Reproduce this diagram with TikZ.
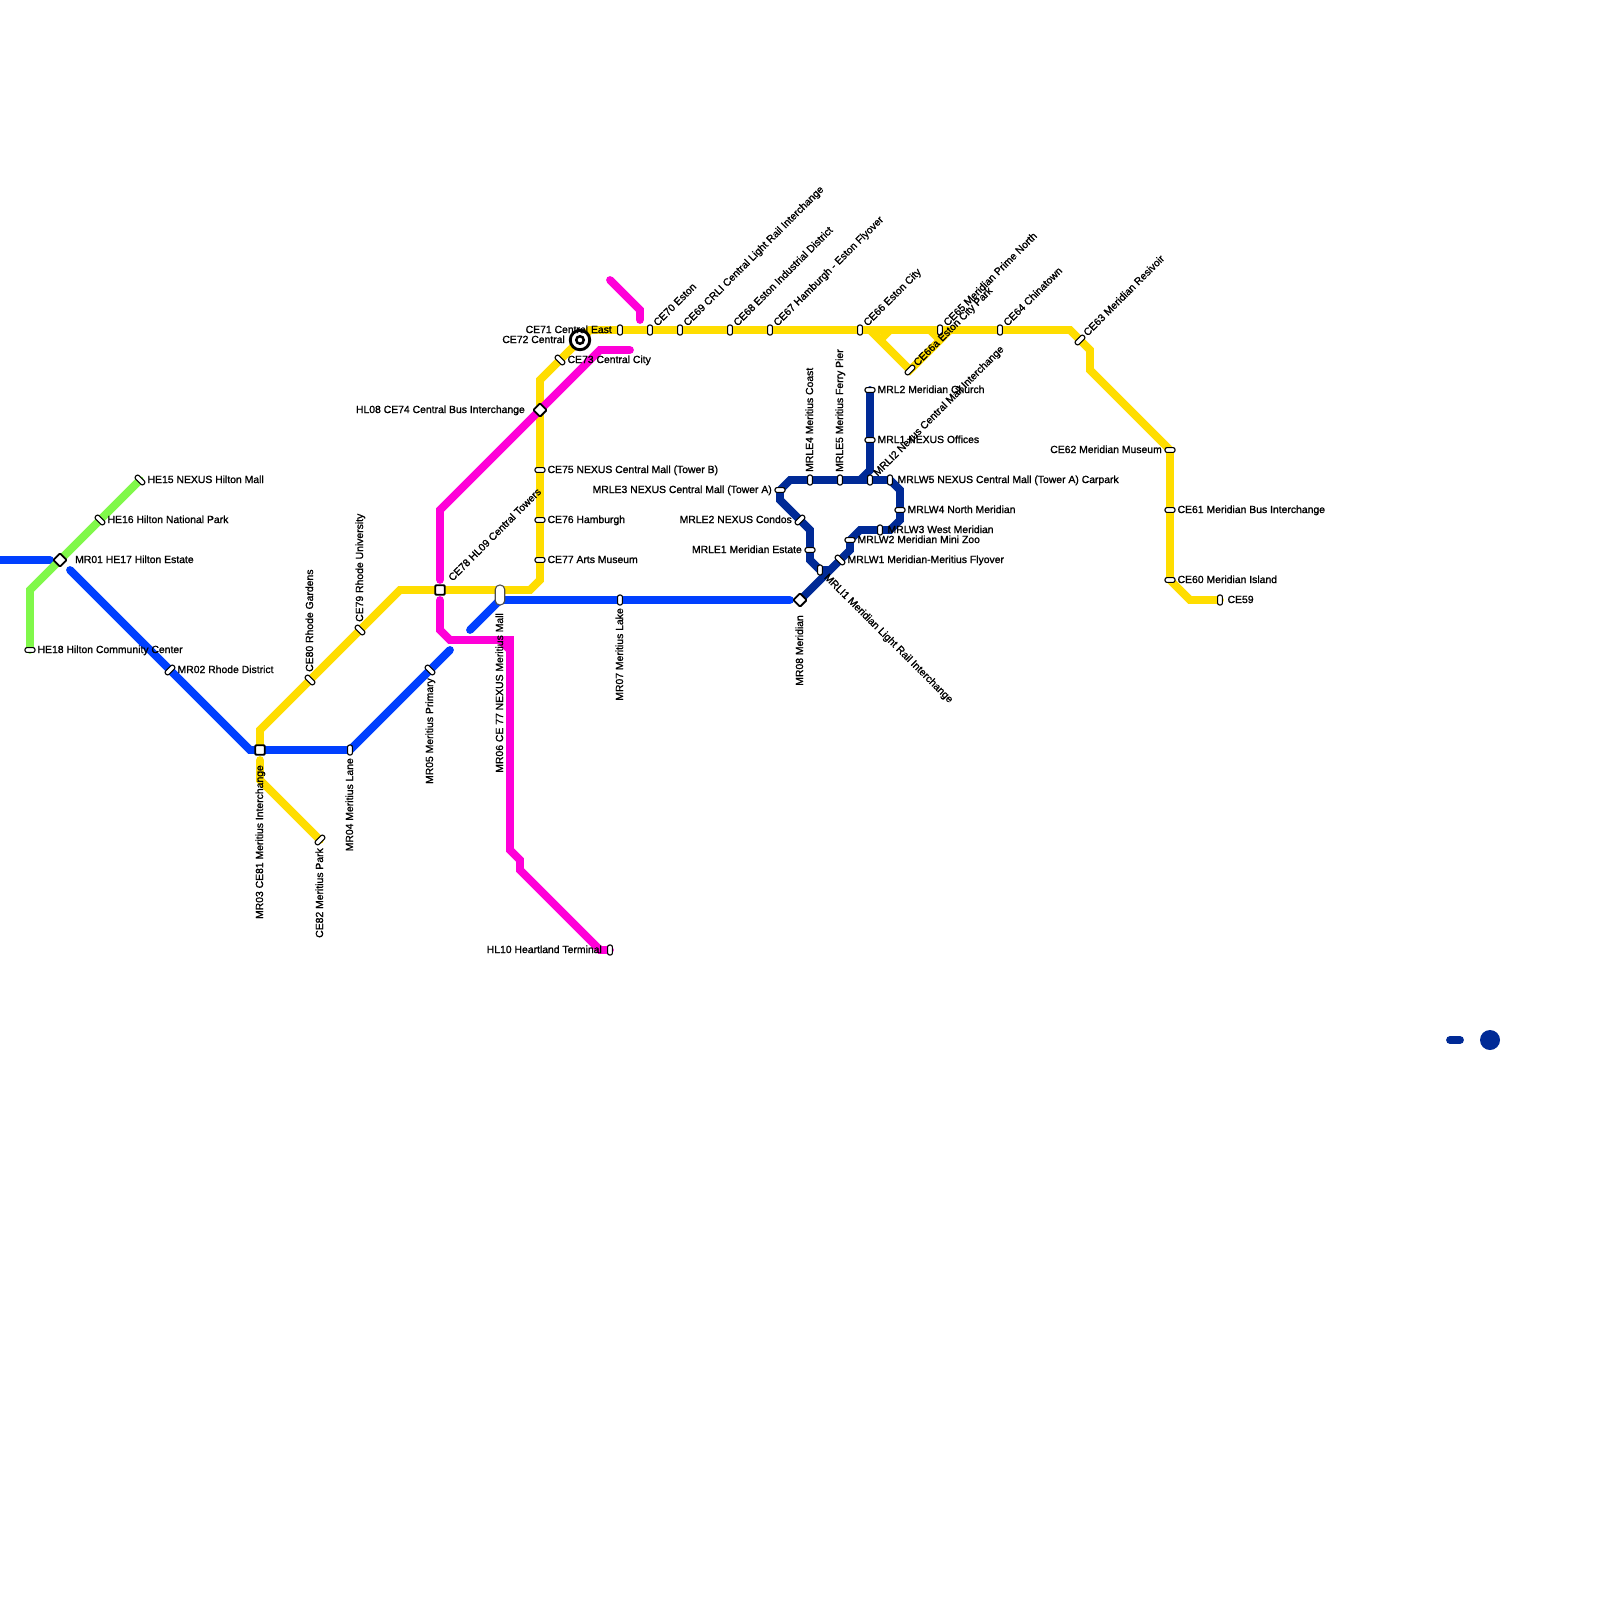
\documentclass[tikz,border=0pt]{standalone}
\usepackage{fontspec}
\setmainfont[FakeBold=1.2]{Liberation Sans}
\usetikzlibrary{calc}
\definecolor{LineYellow}{RGB}{255,221,0}
\definecolor{LineMagenta}{RGB}{255,0,216}
\definecolor{LineBlue}{RGB}{0,64,255}
\definecolor{LineNavy}{RGB}{0,42,150}
\definecolor{LineGreen}{RGB}{128,248,74}
\tikzset{
	route/.style={line width=7.8pt, line cap=round},
	stnv/.style={draw=black, fill=white, line width=1.1pt, rounded corners=2pt, inner sep=0pt, minimum width=4.8pt, minimum height=10pt},
	stnh/.style={stnv, rotate=90},
	stnu/.style={stnv, minimum height=11.5pt, rotate=-45},
	stnd/.style={stnv, minimum height=11.5pt, rotate=45},
	hub/.style={draw=black, fill=white, line width=1.8pt, rounded corners=1pt, inner sep=0pt, minimum size=9.5pt},
	lbl/.style={inner sep=0pt, text height=7.5pt, text depth=0pt, font=\fontsize{10.4}{12}\selectfont},
	lblr/.style={lbl, anchor=west, xshift=7.4pt, yshift=0.7pt},
	lbll/.style={lbl, anchor=east, xshift=-8pt, yshift=0.7pt},
	lblne/.style={lbl, anchor=west, shift={(5.4pt,5.4pt)}, rotate=45, yshift=0.7pt},
	lblse/.style={lbl, anchor=west, shift={(5.66pt,-5.66pt)}, rotate=-45, yshift=0.7pt},
	lblup/.style={lbl, anchor=west, shift={(0pt,8pt)}, rotate=90, yshift=0.7pt},
	lbldn/.style={lbl, anchor=east, shift={(0pt,-8pt)}, rotate=90, yshift=0.7pt}
}
\begin{document}
\begin{tikzpicture}[x=1pt, y=-1pt]
	\useasboundingbox (0,0) rectangle (1600,1600);
	% green line
	\coordinate (HE15) at (140,480);
	\coordinate (HE16) at (100,520);
	\coordinate (MR01) at (60,560);
	\coordinate (HE18) at (30,650);
	\coordinate (g1) at (30,590);
	% blue line
	\coordinate (b0) at (0,560);
	\coordinate (b1) at (50,560);
	\coordinate (b2) at (70,570);
	\coordinate (MR02) at (170,670);
	\coordinate (b3) at (250,750);
	\coordinate (MR03) at (260,750);
	\coordinate (MR04) at (350,750);
	\coordinate (MR05) at (430,670);
	\coordinate (b4) at (450,650);
	\coordinate (b5) at (470,630);
	\coordinate (b6) at (500,600);
	\coordinate (MR06) at (500,595);
	\coordinate (MR07) at (620,600);
	\coordinate (MR08) at (800,600);
	\coordinate (b7) at (790,600);
	% yellow line
	\coordinate (CE59) at (1220,600);
	\coordinate (y1) at (1190,600);
	\coordinate (CE60) at (1170,580);
	\coordinate (CE61) at (1170,510);
	\coordinate (CE62) at (1170,450);
	\coordinate (y2) at (1090,370);
	\coordinate (y3) at (1090,350);
	\coordinate (CE63) at (1080,340);
	\coordinate (y4) at (1070,330);
	\coordinate (CE64) at (1000,330);
	\coordinate (y5) at (950,330);
	\coordinate (y15) at (940,340);
	\coordinate (y16) at (930,330);
	\coordinate (CE65) at (940,330);
	\coordinate (CE66a) at (910,370);
	\coordinate (y17) at (880,340);
	\coordinate (y18) at (890,330);
	\coordinate (y6) at (870,330);
	\coordinate (CE66) at (860,330);
	\coordinate (CE67) at (770,330);
	\coordinate (CE68) at (730,330);
	\coordinate (CE69) at (680,330);
	\coordinate (CE70) at (650,330);
	\coordinate (CE71) at (620,330);
	\coordinate (y7) at (590,330);
	\coordinate (CE72) at (580,340);
	\coordinate (CE73) at (560,360);
	\coordinate (y8) at (540,380);
	\coordinate (CE74) at (540,410);
	\coordinate (CE75) at (540,470);
	\coordinate (CE76) at (540,520);
	\coordinate (CE77) at (540,560);
	\coordinate (y9) at (540,580);
	\coordinate (y10) at (530,590);
	\coordinate (CE78) at (440,590);
	\coordinate (y11) at (400,590);
	\coordinate (CE79) at (360,630);
	\coordinate (CE80) at (310,680);
	\coordinate (y12) at (260,730);
	\coordinate (y13) at (260,760);
	\coordinate (y14) at (260,780);
	\coordinate (CE82) at (320,840);
	% magenta line
	\coordinate (m1) at (610,280);
	\coordinate (m2) at (640,310);
	\coordinate (m3) at (640,320);
	\coordinate (m4) at (630,350);
	\coordinate (m5) at (600,350);
	\coordinate (m6) at (440,510);
	\coordinate (m7) at (440,580);
	\coordinate (m8) at (440,600);
	\coordinate (m9) at (440,630);
	\coordinate (m10) at (450,640);
	\coordinate (m11) at (510,640);
	\coordinate (m12) at (500,640);
	\coordinate (m13) at (510,650);
	\coordinate (m14) at (510,850);
	\coordinate (m15) at (520,860);
	\coordinate (m16) at (520,870);
	\coordinate (m17) at (600,950);
	\coordinate (HL10) at (610,950);
	% navy line
	\coordinate (MRL2) at (870,390);
	\coordinate (MRL1) at (870,440);
	\coordinate (n1) at (870,470);
	\coordinate (n2) at (860,480);
	\coordinate (MRLI2) at (870,480);
	\coordinate (MRLW5) at (890,480);
	\coordinate (MRLE5) at (840,480);
	\coordinate (MRLE4) at (810,480);
	\coordinate (n3) at (790,480);
	\coordinate (MRLE3) at (780,490);
	\coordinate (n4) at (780,500);
	\coordinate (MRLE2) at (800,520);
	\coordinate (n5) at (810,530);
	\coordinate (MRLE1) at (810,550);
	\coordinate (n6) at (810,560);
	\coordinate (MRLI1) at (820,570);
	\coordinate (n7) at (830,570);
	\coordinate (MRLW1) at (840,560);
	\coordinate (n8) at (850,550);
	\coordinate (MRLW2) at (850,540);
	\coordinate (n9) at (860,530);
	\coordinate (MRLW3) at (880,530);
	\coordinate (n10) at (890,530);
	\coordinate (n11) at (900,520);
	\coordinate (MRLW4) at (900,510);
	\coordinate (n12) at (900,490);
	% legend
	\coordinate (k1) at (1450,1040);
	\coordinate (k2) at (1460,1040);
	\coordinate (k3) at (1490,1040);

	\draw[route, LineBlue] (b0)--(b1);
	\draw[route, LineBlue] (b2)--(MR02)--(b3)--(MR04)--(MR05)--(b4);
	\draw[route, LineBlue] (b5)--(b6)--(MR07)--(b7);
	\draw[route, LineGreen] (HE15)--(HE16)--(MR01)--(g1)--(HE18);
	\draw[route, LineYellow] (CE59)--(y1)--(CE60)--(CE62)--(y2)--(y3)--(CE63)--(y4)--(y7)--(CE72)--(CE73)--(y8)--(CE74)--(y9)--(y10)--(y11)--(CE79)--(CE80)--(y12)--(MR03);
	\draw[route, LineYellow] (y6)--(CE66a)--(y5);
	\draw[route, LineYellow] (y17)--(y18);
	\draw[route, LineYellow] (y16)--(y15);
	\draw[route, LineYellow] (y13)--(y14)--(CE82);
	\draw[route, LineMagenta] (m1)--(m2)--(m3);
	\draw[route, LineMagenta] (m4)--(m5)--(m6)--(m7);
	\draw[route, LineMagenta] (m8)--(m9)--(m10)--(m11)--(m13);
	\draw[route, LineMagenta] (m12)--(m13)--(m14)--(m15)--(m16)--(m17)--(HL10);
	\draw[route, LineNavy] (MR08)--(n8)--(MRLW2)--(n9)--(n10)--(n11)--(n12)--(MRLW5)--(n3)--(MRLE3)--(n4)--(n5)--(n6)--(MRLI1)--(n7);
	\draw[route, LineNavy] (MRL2)--(n1)--(n2);
	\draw[route, LineNavy] (k1)--(k2);
	\fill[LineNavy] (k3) circle (10);

	\node[stnd] (sHE15) at (HE15) {};
	\node[stnd] (sHE16) at (HE16) {};
	\node[hub, rotate=45] (sMR01) at (MR01) {};
	\node[stnh] (sHE18) at (HE18) {};
	\node[stnu] (sMR02) at (MR02) {};
	\node[hub] (sMR03) at (MR03) {};
	\node[stnv] (sMR04) at (MR04) {};
	\node[stnd] (sMR05) at (MR05) {};
	\node[stnv, minimum width=9.5pt, minimum height=20pt, rounded corners=4.5pt, draw=black!70] (sMR06) at (MR06) {};
	\node[stnv] (sMR07) at (MR07) {};
	\node[hub, rotate=45] (sMR08) at (MR08) {};
	\node[stnv] (sCE59) at (CE59) {};
	\node[stnh] (sCE60) at (CE60) {};
	\node[stnh] (sCE61) at (CE61) {};
	\node[stnh] (sCE62) at (CE62) {};
	\node[stnu] (sCE63) at (CE63) {};
	\node[stnv] (sCE64) at (CE64) {};
	\node[stnv] (sCE65) at (CE65) {};
	\node[stnu] (sCE66a) at (CE66a) {};
	\node[stnv] (sCE66) at (CE66) {};
	\node[stnv] (sCE67) at (CE67) {};
	\node[stnv] (sCE68) at (CE68) {};
	\node[stnv] (sCE69) at (CE69) {};
	\node[stnv] (sCE70) at (CE70) {};
	\node[stnv] (sCE71) at (CE71) {};
	\node[circle, draw=black, fill=white, line width=2.9pt, inner sep=0pt, minimum size=19.5pt] (sCE72) at (CE72) {};
	\node[circle, draw=black, fill=white, line width=2.5pt, inner sep=0pt, minimum size=7.5pt] (iCE72) at (CE72) {};
	\node[stnd] (sCE73) at (CE73) {};
	\node[hub, rotate=45] (sCE74) at (CE74) {};
	\node[stnh] (sCE75) at (CE75) {};
	\node[stnh] (sCE76) at (CE76) {};
	\node[stnh] (sCE77) at (CE77) {};
	\node[hub] (sCE78) at (CE78) {};
	\node[stnd] (sCE79) at (CE79) {};
	\node[stnd] (sCE80) at (CE80) {};
	\node[stnu] (sCE82) at (CE82) {};
	\node[stnv] (sHL10) at (HL10) {};
	\node[stnh] (sMRL2) at (MRL2) {};
	\node[stnh] (sMRL1) at (MRL1) {};
	\node[stnv] (sMRLI2) at (MRLI2) {};
	\node[stnv] (sMRLW5) at (MRLW5) {};
	\node[stnv] (sMRLE5) at (MRLE5) {};
	\node[stnv] (sMRLE4) at (MRLE4) {};
	\node[stnh] (sMRLE3) at (MRLE3) {};
	\node[stnu] (sMRLE2) at (MRLE2) {};
	\node[stnh] (sMRLE1) at (MRLE1) {};
	\node[stnv] (sMRLI1) at (MRLI1) {};
	\node[stnd] (sMRLW1) at (MRLW1) {};
	\node[stnh] (sMRLW2) at (MRLW2) {};
	\node[stnv] (sMRLW3) at (MRLW3) {};
	\node[stnh] (sMRLW4) at (MRLW4) {};

	\node[lblr] (tHE15) at (HE15) {HE15 NEXUS Hilton Mall};
	\node[lblr] (tHE16) at (HE16) {HE16 Hilton National Park};
	\node[lblr, xshift=7.6pt] (tMR01) at (MR01) {MR01 HE17 Hilton Estate};
	\node[lblr] (tHE18) at (HE18) {HE18 Hilton Community Center};
	\node[lblr] (tMR02) at (MR02) {MR02 Rhode District};
	\node[lbldn, xshift=-7pt] (tMR03) at (MR03) {MR03 CE81 Meritius Interchange};
	\node[lbldn] (tMR04) at (MR04) {MR04 Meritius Lane};
	\node[lbldn] (tMR05) at (MR05) {MR05 Meritius Primary};
	\node[lbldn, xshift=-10pt] (tMR06) at (MR06) {MR06 CE 77 NEXUS Meritius Mall};
	\node[lbldn] (tMR07) at (MR07) {MR07 Meritius Lake};
	\node[lbldn, xshift=-7pt] (tMR08) at (MR08) {MR08 Meridian};
	\node[lblr] (tCE59) at (CE59) {CE59};
	\node[lblr] (tCE60) at (CE60) {CE60 Meridian Island};
	\node[lblr] (tCE61) at (CE61) {CE61 Meridian Bus Interchange};
	\node[lbll] (tCE62) at (CE62) {CE62 Meridian Museum};
	\node[lblne] (tCE63) at (CE63) {CE63 Meridian Resivoir};
	\node[lblne] (tCE64) at (CE64) {CE64 Chinatown};
	\node[lblne] (tCE65) at (CE65) {CE65 Meridian Prime North};
	\node[lblne] (tCE66a) at (CE66a) {CE66a Eston City Park};
	\node[lblne] (tCE66) at (CE66) {CE66 Eston City};
	\node[lblne] (tCE67) at (CE67) {CE67 Hamburgh - Eston Flyover};
	\node[lblne] (tCE68) at (CE68) {CE68 Eston Industrial District};
	\node[lblne] (tCE69) at (CE69) {CE69 CRLI Central Light Rail Interchange};
	\node[lblne] (tCE70) at (CE70) {CE70 Eston};
	\node[lbll] (tCE71) at (CE71) {CE71 Central East};
	\node[lbll, xshift=-7pt] (tCE72) at (CE72) {CE72 Central};
	\node[lblr] (tCE73) at (CE73) {CE73 Central City};
	\node[lbll, xshift=-7pt] (tCE74) at (CE74) {HL08 CE74 Central Bus Interchange};
	\node[lblr] (tCE75) at (CE75) {CE75 NEXUS Central Mall (Tower B)};
	\node[lblr] (tCE76) at (CE76) {CE76 Hamburgh};
	\node[lblr] (tCE77) at (CE77) {CE77 Arts Museum};
	\node[lblne, xshift=7pt] (tCE78) at (CE78) {CE78 HL09 Central Towers};
	\node[lblup] (tCE79) at (CE79) {CE79 Rhode University};
	\node[lblup] (tCE80) at (CE80) {CE80 Rhode Gardens};
	\node[lbldn] (tCE82) at (CE82) {CE82 Meritius Park};
	\node[lbll] (tHL10) at (HL10) {HL10 Heartland Terminal};
	\node[lblr] (tMRL2) at (MRL2) {MRL2 Meridian Church};
	\node[lblr] (tMRL1) at (MRL1) {MRL1 NEXUS Offices};
	\node[lblne] (tMRLI2) at (MRLI2) {MRLI2 Nexus Central Mall Interchange};
	\node[lblr] (tMRLW5) at (MRLW5) {MRLW5 NEXUS Central Mall (Tower A) Carpark};
	\node[lblup] (tMRLE5) at (MRLE5) {MRLE5 Meritius Ferry Pier};
	\node[lblup] (tMRLE4) at (MRLE4) {MRLE4 Meritius Coast};
	\node[lbll] (tMRLE3) at (MRLE3) {MRLE3 NEXUS Central Mall (Tower A)};
	\node[lbll] (tMRLE2) at (MRLE2) {MRLE2 NEXUS Condos};
	\node[lbll] (tMRLE1) at (MRLE1) {MRLE1 Meridian Estate};
	\node[lblse] (tMRLI1) at (MRLI1) {MRLI1 Meridian Light Rail Interchange};
	\node[lblr] (tMRLW1) at (MRLW1) {MRLW1 Meridian-Meritius Flyover};
	\node[lblr] (tMRLW2) at (MRLW2) {MRLW2 Meridian Mini Zoo};
	\node[lblr] (tMRLW3) at (MRLW3) {MRLW3 West Meridian};
	\node[lblr] (tMRLW4) at (MRLW4) {MRLW4 North Meridian};
\end{tikzpicture}
\end{document}
